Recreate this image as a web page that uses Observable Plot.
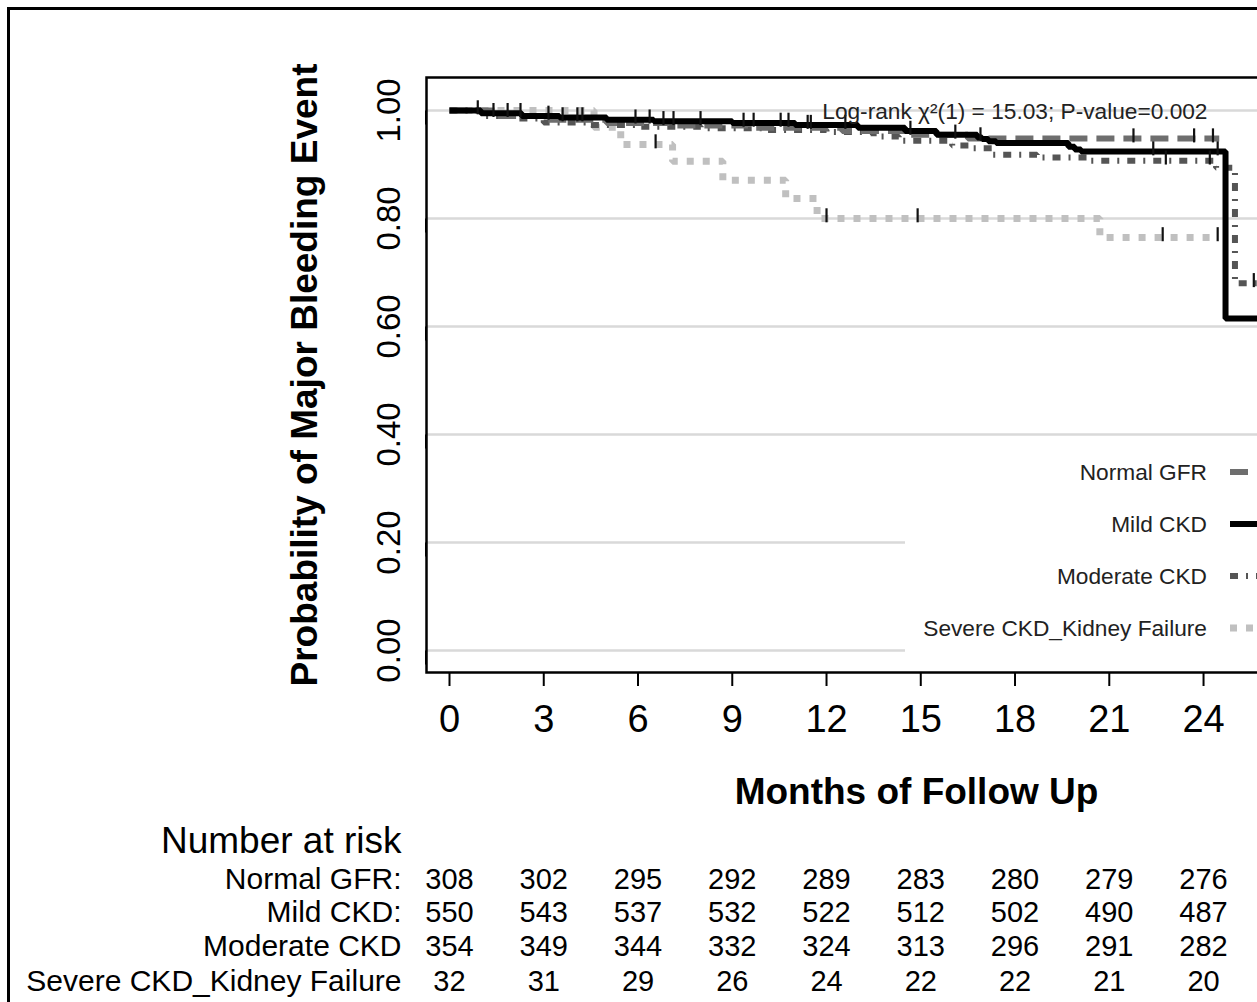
<!DOCTYPE html>
<html>
<head>
<meta charset="utf-8">
<script src="https://cdn.jsdelivr.net/npm/d3@7"></script>
<script src="https://cdn.jsdelivr.net/npm/@observablehq/plot@0.6"></script>
<style>
  html, body { margin: 0; padding: 0; background: #fff; overflow: hidden; }
  #wrap { position: relative; width: 1257px; height: 1002px; overflow: hidden; font-family: "Liberation Sans", Arial, sans-serif; }
  #border { position: absolute; left: 7px; top: 7px; width: 2000px; height: 2000px; border-left: 3px solid #000; border-top: 3px solid #000; }
  #chart { position: absolute; left: 0; top: 0; width: 1406px; }
  #chart svg { max-width: none !important; }
  #legend { position: absolute; left: 905px; top: 445px; width: 420px; height: 218px; background: #fff; }
  .lg-item { position: absolute; left: 0; height: 30px; width: 420px; }
  .lg-text { position: absolute; right: 118px; top: 0; line-height: 30px; font-size: 22.7px; color: #222; white-space: nowrap; }
  .lg-item svg { position: absolute; left: 325px; top: 0; }
</style>
</head>
<body>
<div id="wrap">
  <div id="border"></div>
  <div id="chart"></div>
  <div id="legend"></div>
</div>
<script>
// ---- data ----
const groups = ["Normal GFR", "Mild CKD", "Moderate CKD", "Severe CKD_Kidney Failure"];

const normalT = [0, 1.5, 3, 5, 7, 9.5, 12.5, 14.5, 16.5, 24.5];
const normalS = [1.0, 0.99, 0.983, 0.977, 0.972, 0.968, 0.962, 0.955, 0.948, 0.948];

const mildT = [0, 1, 2.3, 3.5, 5, 6.5, 9, 11, 13, 14.5, 15.5, 16.8, 16.95, 17.15, 17.4, 19.7, 19.9, 20.1, 24.7, 30];
const mildS = [1.0, 0.995, 0.99, 0.987, 0.983, 0.98, 0.977, 0.973, 0.968, 0.962, 0.955, 0.95, 0.947, 0.943, 0.94, 0.933, 0.928, 0.924, 0.615, 0.615];

const modT = [0, 1, 2, 3, 4.5, 6, 8, 10, 12, 13.5, 14.3, 16, 16.6, 17.3, 18.7, 20.4, 24.4, 25.0, 30];
const modS = [1.0, 0.99, 0.985, 0.978, 0.973, 0.97, 0.967, 0.964, 0.96, 0.952, 0.944, 0.935, 0.93, 0.918, 0.913, 0.907, 0.894, 0.68, 0.68];

const sevT = [0, 4.6, 5.45, 7.1, 8.7, 10.7, 11.7, 20.7, 24.4];
const sevS = [1.0, 0.969, 0.937, 0.906, 0.871, 0.837, 0.80, 0.765, 0.765];

const mildCensor = [0.9, 1.4, 1.85, 2.26, 3.15, 3.6, 4.07, 4.23, 5.92, 6.37, 6.81, 7.13, 7.99, 9.36, 9.68, 10.54, 10.79, 11.4, 11.5, 12.6, 14.67, 16.1, 16.9, 22.4, 24.45];
const normalCensor = [21.77, 23.7, 24.3];
const modCensor = [22.8, 24.2, 25.6];
const sevCensor = [6.56, 12.0, 14.9, 22.7, 24.45];

const xTicks = [0, 3, 6, 9, 12, 15, 18, 21, 24];
const yTicks = [0, 0.2, 0.4, 0.6, 0.8, 1.0];

const riskTimes = [0, 3, 6, 9, 12, 15, 18, 21, 24];
const riskLabels = ["Normal GFR:", "Mild CKD:", "Moderate CKD", "Severe CKD_Kidney Failure"];
const riskNormal = [308, 302, 295, 292, 289, 283, 280, 279, 276];
const riskMild = [550, 543, 537, 532, 522, 512, 502, 490, 487];
const riskModerate = [354, 349, 344, 332, 324, 313, 296, 291, 282];
const riskSevere = [32, 31, 29, 26, 24, 22, 22, 21, 20];

const annotation = "Log-rank \u03C7\u00B2(1) = 15.03; P-value=0.002";
const xTitle = "Months of Follow Up";
const yTitle = "Probability of Major Bleeding Event";

// ---- styles ----
const styles = {
  "Normal GFR": {stroke: "#6e6e6e", strokeWidth: 6, dash: "18,9"},
  "Mild CKD": {stroke: "#000000", strokeWidth: 6, dash: null},
  "Moderate CKD": {stroke: "#555555", strokeWidth: 6, dash: "8,8,2,8"},
  "Severe CKD_Kidney Failure": {stroke: "#c0c0c0", strokeWidth: 7, dash: "7,9"}
};

function rows(g, T, S) { return T.map((t, i) => ({group: g, t, s: S[i]})); }
function stepAt(T, S, t) { let v = S[0]; for (let i = 0; i < T.length; i++) if (T[i] <= t) v = S[i]; return v; }
function cens(g, C, T, S) { return C.map(t => ({group: g, t, s: stepAt(T, S, t)})); }

const series = [
  ["Severe CKD_Kidney Failure", rows("Severe CKD_Kidney Failure", sevT, sevS)],
  ["Moderate CKD", rows("Moderate CKD", modT, modS)],
  ["Normal GFR", rows("Normal GFR", normalT, normalS)],
  ["Mild CKD", rows("Mild CKD", mildT, mildS)]
];
const censors = [
  ...cens("Severe", sevCensor, sevT, sevS),
  ...cens("Moderate", modCensor, modT, modS),
  ...cens("Normal", normalCensor, normalT, normalS),
  ...cens("Mild", mildCensor, mildT, mildS)
];

const riskRows = [riskNormal, riskMild, riskModerate, riskSevere];
const riskDy = [207, 240, 274, 309];

const marks = [
  Plot.gridY(yTicks, {stroke: "#d9d9d9", strokeWidth: 2.5, strokeOpacity: 1}),
  ...series.map(([g, data]) => Plot.line(data, {
    x: "t", y: "s", curve: "step-after",
    stroke: styles[g].stroke, strokeWidth: styles[g].strokeWidth,
    strokeDasharray: styles[g].dash, strokeLinecap: "butt", strokeLinejoin: "miter"
  })),
  Plot.ruleX(censors, {x: "t", y1: d => d.s - 0.008, y2: d => d.s + 0.018, stroke: "#111", strokeWidth: 2.2}),
  Plot.frame({stroke: "#000", strokeWidth: 2.5}),
  Plot.axisX(xTicks, {tickSize: 14, tickPadding: 19, fontSize: 38, stroke: "#000", strokeWidth: 2, fill: "#000", label: null, tickFormat: d => String(d)}),
  Plot.axisY(yTicks, {tickSize: 14, tickPadding: 13, fontSize: 33, rotate: -90, textAnchor: "middle", lineAnchor: "bottom", stroke: "#000", strokeWidth: 2, fill: "#000", label: null, tickFormat: d3.format(".2f")}),
  Plot.text([annotation], {frameAnchor: "top-right", dx: -199, dy: 34, textAnchor: "end", lineAnchor: "middle", fontSize: 22.7, fill: "#222"}),
  Plot.text([yTitle], {frameAnchor: "left", dx: -121, rotate: -90, textAnchor: "middle", lineAnchor: "middle", fontSize: 37, fontWeight: "bold", fill: "#000"}),
  Plot.text([xTitle], {frameAnchor: "bottom", dy: 120, textAnchor: "middle", lineAnchor: "middle", fontSize: 37, fontWeight: "bold", fill: "#000"}),
  Plot.text(["Number at risk"], {frameAnchor: "bottom-left", dx: -25, dy: 169, textAnchor: "end", lineAnchor: "middle", fontSize: 37, fill: "#000"}),
  ...riskLabels.map((lab, i) => Plot.text([lab], {frameAnchor: "bottom-left", dx: -25, dy: riskDy[i], textAnchor: "end", lineAnchor: "middle", fontSize: 30, fill: "#000"})),
  ...riskRows.map((vals, i) => Plot.text(vals.map((v, j) => ({t: riskTimes[j], v})), {x: "t", text: d => String(d.v), frameAnchor: "bottom", dy: riskDy[i], textAnchor: "middle", lineAnchor: "middle", fontSize: 29, fill: "#000"}))
];

const chart = Plot.plot({
  width: 1406, height: 1002,
  marginLeft: 426, marginRight: 0, marginTop: 77, marginBottom: 330,
  x: {domain: [-0.732, 30.46], label: null},
  y: {domain: [-0.0407, 1.0611], label: null},
  style: {fontFamily: "Liberation Sans, Arial, sans-serif", background: "transparent", overflow: "visible", maxWidth: "none"},
  marks
});
document.getElementById("chart").appendChild(chart);

// ---- legend (HTML overlay with white box) ----
const legend = document.getElementById("legend");
const legendTop = [12, 64, 116, 168];
groups.forEach((g, i) => {
  const st = styles[g];
  const item = document.createElement("div");
  item.className = "lg-item";
  item.style.top = legendTop[i] + "px";
  const span = document.createElement("span");
  span.className = "lg-text";
  span.textContent = g;
  item.appendChild(span);
  const svg = d3.create("svg").attr("width", 80).attr("height", 30);
  svg.append("line").attr("x1", 0).attr("x2", 80).attr("y1", 15).attr("y2", 15)
    .attr("stroke", st.stroke).attr("stroke-width", st.strokeWidth)
    .attr("stroke-dasharray", st.dash).attr("stroke-linecap", "butt");
  item.appendChild(svg.node());
  legend.appendChild(item);
});
</script>
</body>
</html>
